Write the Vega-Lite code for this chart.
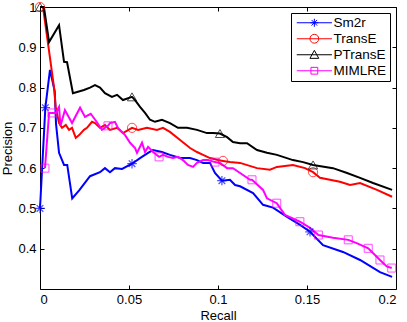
{
  "$schema": "https://vega.github.io/schema/vega-lite/v6.json",
  "width": 356,
  "height": 282,
  "autosize": {"type": "none"},
  "padding": {"left": 40, "top": 7, "right": 11, "bottom": 33},
  "background": "white",
  "config": {
    "view": {"stroke": null},
    "font": "Liberation Sans",
    "axis": {
      "grid": false,
      "domainColor": "black",
      "domainWidth": 1,
      "tickColor": "black",
      "tickSize": -4,
      "labelColor": "black",
      "labelFont": "Liberation Sans",
      "labelFontSize": 13,
      "labelPadding": 8,
      "titleFont": "Liberation Sans",
      "titleFontSize": 13,
      "titleFontWeight": "normal",
      "titleColor": "black"
    },
    "legend": {
      "orient": "top-right",
      "offset": 6,
      "strokeColor": "black",
      "fillColor": "white",
      "padding": 3,
      "labelFont": "Liberation Sans",
      "labelFontSize": 13.5,
      "labelColor": "black",
      "symbolStrokeWidth": 1,
      "rowPadding": 1
    }
  },
  "datasets": {
    "curves": [
      {"method": "Sm2r", "r": 0, "p": 0.5},
      {"method": "Sm2r", "r": 0.003, "p": 0.75},
      {"method": "Sm2r", "r": 0.0056, "p": 0.844},
      {"method": "Sm2r", "r": 0.0083, "p": 0.79},
      {"method": "Sm2r", "r": 0.009, "p": 0.71},
      {"method": "Sm2r", "r": 0.0107, "p": 0.638},
      {"method": "Sm2r", "r": 0.0135, "p": 0.608},
      {"method": "Sm2r", "r": 0.0153, "p": 0.608},
      {"method": "Sm2r", "r": 0.0181, "p": 0.525},
      {"method": "Sm2r", "r": 0.022, "p": 0.545},
      {"method": "Sm2r", "r": 0.0281, "p": 0.58},
      {"method": "Sm2r", "r": 0.0337, "p": 0.59},
      {"method": "Sm2r", "r": 0.0365, "p": 0.6},
      {"method": "Sm2r", "r": 0.0393, "p": 0.59},
      {"method": "Sm2r", "r": 0.0421, "p": 0.6},
      {"method": "Sm2r", "r": 0.0461, "p": 0.598},
      {"method": "Sm2r", "r": 0.0517, "p": 0.611},
      {"method": "Sm2r", "r": 0.0562, "p": 0.625},
      {"method": "Sm2r", "r": 0.0607, "p": 0.638},
      {"method": "Sm2r", "r": 0.0635, "p": 0.645},
      {"method": "Sm2r", "r": 0.0685, "p": 0.64},
      {"method": "Sm2r", "r": 0.073, "p": 0.633},
      {"method": "Sm2r", "r": 0.0787, "p": 0.625},
      {"method": "Sm2r", "r": 0.0843, "p": 0.625},
      {"method": "Sm2r", "r": 0.0882, "p": 0.62},
      {"method": "Sm2r", "r": 0.0916, "p": 0.613},
      {"method": "Sm2r", "r": 0.0955, "p": 0.613},
      {"method": "Sm2r", "r": 0.0983, "p": 0.588},
      {"method": "Sm2r", "r": 0.1022, "p": 0.569},
      {"method": "Sm2r", "r": 0.1067, "p": 0.571},
      {"method": "Sm2r", "r": 0.1096, "p": 0.558},
      {"method": "Sm2r", "r": 0.1124, "p": 0.555},
      {"method": "Sm2r", "r": 0.1197, "p": 0.538},
      {"method": "Sm2r", "r": 0.1253, "p": 0.509},
      {"method": "Sm2r", "r": 0.1309, "p": 0.502},
      {"method": "Sm2r", "r": 0.1388, "p": 0.479},
      {"method": "Sm2r", "r": 0.1461, "p": 0.459},
      {"method": "Sm2r", "r": 0.1517, "p": 0.442},
      {"method": "Sm2r", "r": 0.159, "p": 0.409},
      {"method": "Sm2r", "r": 0.1702, "p": 0.392},
      {"method": "Sm2r", "r": 0.1798, "p": 0.372},
      {"method": "Sm2r", "r": 0.191, "p": 0.342},
      {"method": "Sm2r", "r": 0.1978, "p": 0.33},

      {"method": "TransE", "r": 0, "p": 1.0},
      {"method": "TransE", "r": 0.0017, "p": 1.0},
      {"method": "TransE", "r": 0.0079, "p": 0.8},
      {"method": "TransE", "r": 0.0088, "p": 0.752},
      {"method": "TransE", "r": 0.0107, "p": 0.712},
      {"method": "TransE", "r": 0.0124, "p": 0.7},
      {"method": "TransE", "r": 0.0145, "p": 0.707},
      {"method": "TransE", "r": 0.0163, "p": 0.695},
      {"method": "TransE", "r": 0.018, "p": 0.7},
      {"method": "TransE", "r": 0.0201, "p": 0.675},
      {"method": "TransE", "r": 0.022, "p": 0.682},
      {"method": "TransE", "r": 0.0247, "p": 0.695},
      {"method": "TransE", "r": 0.0264, "p": 0.7},
      {"method": "TransE", "r": 0.0292, "p": 0.715},
      {"method": "TransE", "r": 0.0309, "p": 0.712},
      {"method": "TransE", "r": 0.0337, "p": 0.7},
      {"method": "TransE", "r": 0.0365, "p": 0.707},
      {"method": "TransE", "r": 0.0393, "p": 0.695},
      {"method": "TransE", "r": 0.0433, "p": 0.7},
      {"method": "TransE", "r": 0.0466, "p": 0.687},
      {"method": "TransE", "r": 0.0517, "p": 0.7},
      {"method": "TransE", "r": 0.0551, "p": 0.695},
      {"method": "TransE", "r": 0.0601, "p": 0.7},
      {"method": "TransE", "r": 0.0657, "p": 0.695},
      {"method": "TransE", "r": 0.0691, "p": 0.7},
      {"method": "TransE", "r": 0.073, "p": 0.69},
      {"method": "TransE", "r": 0.0787, "p": 0.67},
      {"method": "TransE", "r": 0.0843, "p": 0.65},
      {"method": "TransE", "r": 0.0882, "p": 0.64},
      {"method": "TransE", "r": 0.0916, "p": 0.633},
      {"method": "TransE", "r": 0.0955, "p": 0.625},
      {"method": "TransE", "r": 0.1, "p": 0.62},
      {"method": "TransE", "r": 0.1028, "p": 0.618},
      {"method": "TransE", "r": 0.1067, "p": 0.615},
      {"method": "TransE", "r": 0.1124, "p": 0.613},
      {"method": "TransE", "r": 0.1219, "p": 0.6},
      {"method": "TransE", "r": 0.1292, "p": 0.596},
      {"method": "TransE", "r": 0.1331, "p": 0.603},
      {"method": "TransE", "r": 0.1421, "p": 0.608},
      {"method": "TransE", "r": 0.1489, "p": 0.6},
      {"method": "TransE", "r": 0.1534, "p": 0.59},
      {"method": "TransE", "r": 0.1573, "p": 0.576},
      {"method": "TransE", "r": 0.1685, "p": 0.566},
      {"method": "TransE", "r": 0.1742, "p": 0.558},
      {"method": "TransE", "r": 0.1798, "p": 0.563},
      {"method": "TransE", "r": 0.1893, "p": 0.546},
      {"method": "TransE", "r": 0.1978, "p": 0.529},

      {"method": "PTransE", "r": 0, "p": 1.0},
      {"method": "PTransE", "r": 0.0022, "p": 1.0},
      {"method": "PTransE", "r": 0.0051, "p": 0.913},
      {"method": "PTransE", "r": 0.0107, "p": 0.955},
      {"method": "PTransE", "r": 0.0135, "p": 0.864},
      {"method": "PTransE", "r": 0.0152, "p": 0.863},
      {"method": "PTransE", "r": 0.0185, "p": 0.786},
      {"method": "PTransE", "r": 0.0247, "p": 0.794},
      {"method": "PTransE", "r": 0.0281, "p": 0.8},
      {"method": "PTransE", "r": 0.0309, "p": 0.806},
      {"method": "PTransE", "r": 0.0337, "p": 0.8},
      {"method": "PTransE", "r": 0.0365, "p": 0.786},
      {"method": "PTransE", "r": 0.0404, "p": 0.777},
      {"method": "PTransE", "r": 0.0433, "p": 0.782},
      {"method": "PTransE", "r": 0.0466, "p": 0.769},
      {"method": "PTransE", "r": 0.0517, "p": 0.777},
      {"method": "PTransE", "r": 0.0534, "p": 0.769},
      {"method": "PTransE", "r": 0.0562, "p": 0.752},
      {"method": "PTransE", "r": 0.059, "p": 0.737},
      {"method": "PTransE", "r": 0.0618, "p": 0.72},
      {"method": "PTransE", "r": 0.0646, "p": 0.715},
      {"method": "PTransE", "r": 0.0685, "p": 0.72},
      {"method": "PTransE", "r": 0.073, "p": 0.712},
      {"method": "PTransE", "r": 0.0775, "p": 0.7},
      {"method": "PTransE", "r": 0.0826, "p": 0.7},
      {"method": "PTransE", "r": 0.0882, "p": 0.695},
      {"method": "PTransE", "r": 0.0938, "p": 0.687},
      {"method": "PTransE", "r": 0.0972, "p": 0.687},
      {"method": "PTransE", "r": 0.1011, "p": 0.686},
      {"method": "PTransE", "r": 0.1051, "p": 0.677},
      {"method": "PTransE", "r": 0.1084, "p": 0.665},
      {"method": "PTransE", "r": 0.1124, "p": 0.662},
      {"method": "PTransE", "r": 0.1163, "p": 0.662},
      {"method": "PTransE", "r": 0.1219, "p": 0.645},
      {"method": "PTransE", "r": 0.1275, "p": 0.638},
      {"method": "PTransE", "r": 0.1331, "p": 0.633},
      {"method": "PTransE", "r": 0.1421, "p": 0.62},
      {"method": "PTransE", "r": 0.1478, "p": 0.615},
      {"method": "PTransE", "r": 0.1534, "p": 0.608},
      {"method": "PTransE", "r": 0.1646, "p": 0.6},
      {"method": "PTransE", "r": 0.1725, "p": 0.588},
      {"method": "PTransE", "r": 0.1798, "p": 0.576},
      {"method": "PTransE", "r": 0.1871, "p": 0.563},
      {"method": "PTransE", "r": 0.1978, "p": 0.546},

      {"method": "MIMLRE", "r": 0.0028, "p": 0.6},
      {"method": "MIMLRE", "r": 0.0051, "p": 0.737},
      {"method": "MIMLRE", "r": 0.0067, "p": 0.737},
      {"method": "MIMLRE", "r": 0.009, "p": 0.737},
      {"method": "MIMLRE", "r": 0.0107, "p": 0.752},
      {"method": "MIMLRE", "r": 0.0115, "p": 0.705},
      {"method": "MIMLRE", "r": 0.014, "p": 0.744},
      {"method": "MIMLRE", "r": 0.018, "p": 0.712},
      {"method": "MIMLRE", "r": 0.0225, "p": 0.75},
      {"method": "MIMLRE", "r": 0.0253, "p": 0.727},
      {"method": "MIMLRE", "r": 0.0285, "p": 0.735},
      {"method": "MIMLRE", "r": 0.032, "p": 0.714},
      {"method": "MIMLRE", "r": 0.0348, "p": 0.695},
      {"method": "MIMLRE", "r": 0.0382, "p": 0.705},
      {"method": "MIMLRE", "r": 0.0393, "p": 0.712},
      {"method": "MIMLRE", "r": 0.0421, "p": 0.715},
      {"method": "MIMLRE", "r": 0.0438, "p": 0.7},
      {"method": "MIMLRE", "r": 0.0478, "p": 0.682},
      {"method": "MIMLRE", "r": 0.0506, "p": 0.663},
      {"method": "MIMLRE", "r": 0.0534, "p": 0.65},
      {"method": "MIMLRE", "r": 0.0545, "p": 0.638},
      {"method": "MIMLRE", "r": 0.0573, "p": 0.663},
      {"method": "MIMLRE", "r": 0.059, "p": 0.64},
      {"method": "MIMLRE", "r": 0.0607, "p": 0.653},
      {"method": "MIMLRE", "r": 0.0635, "p": 0.64},
      {"method": "MIMLRE", "r": 0.0669, "p": 0.628},
      {"method": "MIMLRE", "r": 0.0691, "p": 0.633},
      {"method": "MIMLRE", "r": 0.0719, "p": 0.628},
      {"method": "MIMLRE", "r": 0.0747, "p": 0.625},
      {"method": "MIMLRE", "r": 0.0775, "p": 0.628},
      {"method": "MIMLRE", "r": 0.0803, "p": 0.62},
      {"method": "MIMLRE", "r": 0.0831, "p": 0.608},
      {"method": "MIMLRE", "r": 0.086, "p": 0.603},
      {"method": "MIMLRE", "r": 0.0882, "p": 0.613},
      {"method": "MIMLRE", "r": 0.0916, "p": 0.62},
      {"method": "MIMLRE", "r": 0.0944, "p": 0.62},
      {"method": "MIMLRE", "r": 0.0983, "p": 0.615},
      {"method": "MIMLRE", "r": 0.1011, "p": 0.613},
      {"method": "MIMLRE", "r": 0.1051, "p": 0.6},
      {"method": "MIMLRE", "r": 0.1084, "p": 0.6},
      {"method": "MIMLRE", "r": 0.1124, "p": 0.588},
      {"method": "MIMLRE", "r": 0.118, "p": 0.571},
      {"method": "MIMLRE", "r": 0.1191, "p": 0.571},
      {"method": "MIMLRE", "r": 0.1253, "p": 0.546},
      {"method": "MIMLRE", "r": 0.1275, "p": 0.525},
      {"method": "MIMLRE", "r": 0.133, "p": 0.513},
      {"method": "MIMLRE", "r": 0.1376, "p": 0.484},
      {"method": "MIMLRE", "r": 0.146, "p": 0.467},
      {"method": "MIMLRE", "r": 0.1517, "p": 0.452},
      {"method": "MIMLRE", "r": 0.1564, "p": 0.434},
      {"method": "MIMLRE", "r": 0.1646, "p": 0.427},
      {"method": "MIMLRE", "r": 0.1732, "p": 0.422},
      {"method": "MIMLRE", "r": 0.1779, "p": 0.414},
      {"method": "MIMLRE", "r": 0.1844, "p": 0.401},
      {"method": "MIMLRE", "r": 0.191, "p": 0.372},
      {"method": "MIMLRE", "r": 0.1948, "p": 0.356},
      {"method": "MIMLRE", "r": 0.1976, "p": 0.352}
    ],
    "markers": [
      {"method": "Sm2r", "r": 0, "p": 0.5},
      {"method": "Sm2r", "r": 0.003, "p": 0.75},
      {"method": "Sm2r", "r": 0.0517, "p": 0.611},
      {"method": "Sm2r", "r": 0.1022, "p": 0.569},
      {"method": "Sm2r", "r": 0.1517, "p": 0.442},
      {"method": "TransE", "r": 0, "p": 1.0},
      {"method": "TransE", "r": 0.0517, "p": 0.7},
      {"method": "TransE", "r": 0.1028, "p": 0.618},
      {"method": "TransE", "r": 0.1534, "p": 0.59},
      {"method": "PTransE", "r": 0, "p": 1.0},
      {"method": "PTransE", "r": 0.0517, "p": 0.777},
      {"method": "PTransE", "r": 0.1011, "p": 0.686},
      {"method": "PTransE", "r": 0.1534, "p": 0.608},
      {"method": "MIMLRE", "r": 0.0028, "p": 0.6},
      {"method": "MIMLRE", "r": 0.0067, "p": 0.737},
      {"method": "MIMLRE", "r": 0.0382, "p": 0.705},
      {"method": "MIMLRE", "r": 0.0669, "p": 0.628},
      {"method": "MIMLRE", "r": 0.0983, "p": 0.615},
      {"method": "MIMLRE", "r": 0.1191, "p": 0.571},
      {"method": "MIMLRE", "r": 0.133, "p": 0.513},
      {"method": "MIMLRE", "r": 0.146, "p": 0.467},
      {"method": "MIMLRE", "r": 0.1564, "p": 0.434},
      {"method": "MIMLRE", "r": 0.1732, "p": 0.422},
      {"method": "MIMLRE", "r": 0.1844, "p": 0.401},
      {"method": "MIMLRE", "r": 0.191, "p": 0.372},
      {"method": "MIMLRE", "r": 0.1976, "p": 0.352}
    ]
  },
  "resolve": {
    "axis": {"x": "independent", "y": "independent"},
    "legend": {"color": "independent", "shape": "independent"}
  },
  "layer": [
    {
      "data": {"name": "curves"},
      "mark": {"type": "line", "strokeWidth": 2, "clip": false},
      "encoding": {
        "x": {
          "field": "r",
          "type": "quantitative",
          "title": "Recall",
          "scale": {"domain": [0, 0.2], "nice": false, "zero": false},
          "axis": {"orient": "bottom", "values": [0, 0.05, 0.1, 0.15, 0.2], "format": "~g", "titlePadding": 3}
        },
        "y": {
          "field": "p",
          "type": "quantitative",
          "title": "Precision",
          "scale": {"domain": [0.3, 1.0], "nice": false, "zero": false},
          "axis": {"orient": "left", "values": [0.4, 0.5, 0.6, 0.7, 0.8, 0.9, 1.0], "format": "~g", "titlePadding": 3}
        },
        "color": {
          "field": "method",
          "type": "nominal",
          "scale": {
            "domain": ["Sm2r", "TransE", "PTransE", "MIMLRE"],
            "range": ["#0000ff", "#ff0000", "#000000", "#ff00ff"]
          },
          "legend": null
        },
        "order": {"field": "r", "type": "quantitative"}
      }
    },
    {
      "data": {"name": "markers"},
      "transform": [{"filter": "datum.method === 'Sm2r'"}],
      "mark": {"type": "point", "filled": false, "strokeWidth": 1.2, "size": 90,
               "shape": "M-1,0H1M0,-1V1M-0.7,-0.7L0.7,0.7M-0.7,0.7L0.7,-0.7"},
      "encoding": {
        "x": {"field": "r", "type": "quantitative", "axis": null},
        "y": {"field": "p", "type": "quantitative", "axis": null},
        "color": {"field": "method", "type": "nominal", "legend": null}
      }
    },
    {
      "data": {"name": "markers"},
      "transform": [{"filter": "datum.method === 'TransE'"}],
      "mark": {"type": "point", "filled": false, "strokeWidth": 1, "size": 85, "shape": "circle"},
      "encoding": {
        "x": {"field": "r", "type": "quantitative", "axis": null},
        "y": {"field": "p", "type": "quantitative", "axis": null},
        "color": {"field": "method", "type": "nominal", "legend": null}
      }
    },
    {
      "data": {"name": "markers"},
      "transform": [{"filter": "datum.method === 'PTransE'"}],
      "mark": {"type": "point", "filled": false, "strokeWidth": 1, "size": 85, "shape": "triangle-up"},
      "encoding": {
        "x": {"field": "r", "type": "quantitative", "axis": null},
        "y": {"field": "p", "type": "quantitative", "axis": null},
        "color": {"field": "method", "type": "nominal", "legend": null}
      }
    },
    {
      "data": {"name": "markers"},
      "transform": [{"filter": "datum.method === 'MIMLRE'"}],
      "mark": {"type": "point", "filled": false, "strokeWidth": 1, "size": 64, "shape": "square"},
      "encoding": {
        "x": {"field": "r", "type": "quantitative", "axis": null},
        "y": {"field": "p", "type": "quantitative", "axis": null},
        "color": {"field": "method", "type": "nominal", "legend": null}
      }
    },
    {
      "data": {"name": "markers"},
      "mark": {"type": "point", "filled": false, "opacity": 0},
      "encoding": {
        "x": {
          "field": "r",
          "type": "quantitative",
          "axis": {"orient": "top", "values": [0, 0.05, 0.1, 0.15, 0.2], "labels": false, "title": null}
        },
        "y": {
          "field": "p",
          "type": "quantitative",
          "axis": {"orient": "right", "values": [0.4, 0.5, 0.6, 0.7, 0.8, 0.9, 1.0], "labels": false, "title": null}
        },
        "color": {
          "field": "method",
          "type": "nominal",
          "title": null,
          "legend": {"symbolOpacity": 1, "symbolSize": 64, "labelOffset": 26}
        },
        "shape": {
          "field": "method",
          "type": "nominal",
          "title": null,
          "scale": {
            "domain": ["Sm2r", "TransE", "PTransE", "MIMLRE"],
            "range": [
              "M-1,0H7.8M3.4,-1V1M2.7,-0.7L4.1,0.7M2.7,0.7L4.1,-0.7M2.4,0H4.4",
              "M-1,0H7.8M4.5,0A1.1,1.1,0,1,1,2.3,0A1.1,1.1,0,1,1,4.5,0",
              "M-1,0H7.8M3.4,-1.1L4.5,0.9L2.3,0.9Z",
              "M-1,0H7.8M2.55,-0.85H4.25V0.85H2.55Z"
            ]
          },
          "legend": {"symbolOpacity": 1, "symbolSize": 64, "labelOffset": 26}
        }
      }
    }
  ]
}
